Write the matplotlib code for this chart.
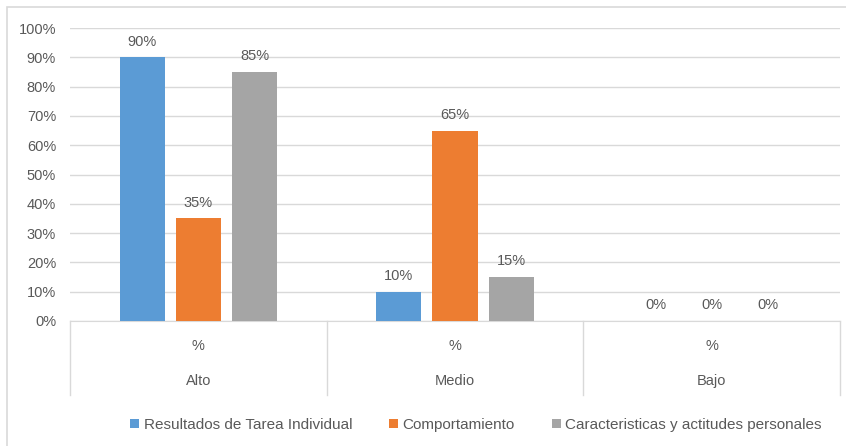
import numpy as np
import matplotlib.pyplot as plt
from matplotlib.patches import Rectangle
from matplotlib.ticker import PercentFormatter

# datos del gráfico
niveles = ["Alto", "Medio", "Bajo"]
sub_etiqueta = "%"
series = ["Resultados de Tarea Individual", "Comportamiento",
          "Caracteristicas y actitudes personales"]
resultados = [90, 10, 0]
comportamiento = [35, 65, 0]
caracteristicas = [85, 15, 0]
colores = ["#5b9bd5", "#ed7d31", "#a5a5a5"]

plt.rcParams['font.family'] = ['Liberation Sans', 'DejaVu Sans']
gris_texto = "#595959"

fig = plt.figure(figsize=(8.46, 4.46), dpi=100)
# marco exterior del gráfico
fig.patches.append(Rectangle((7 / 846, -0.05), 1.0, 1 - 6.5 / 446 + 0.05,
                             transform=fig.transFigure, fill=False,
                             edgecolor="#d9d9d9", linewidth=1.2))

ax = fig.add_axes([70 / 846, 1 - 321 / 446, 770 / 846, 293 / 446])

x = np.arange(len(niveles))
ancho = 0.176
paso = 0.219
valores = [resultados, comportamiento, caracteristicas]
for i, (nombre, vals) in enumerate(zip(series, valores)):
    pos = x + (i - 1) * paso
    barras = ax.bar(pos, vals, width=ancho, color=colores[i], label=nombre, zorder=3)
    for b, v in zip(barras, vals):
        ax.text(b.get_x() + b.get_width() / 2, v + 3, f"{v}%", ha="center",
                va="bottom", fontsize=10.5, color=gris_texto)

ax.set_xlim(-0.5, len(niveles) - 0.5)
ax.set_ylim(0, 100)
ax.set_yticks(range(0, 101, 10))
ax.yaxis.set_major_formatter(PercentFormatter(decimals=0))
ax.tick_params(axis="y", length=0, labelsize=10.5, labelcolor=gris_texto, pad=10)
ax.set_xticks([])
ax.grid(axis="y", color="#d9d9d9", linewidth=1, zorder=0)
for s in ["top", "right", "left"]:
    ax.spines[s].set_visible(False)
ax.spines["bottom"].set_color("#d9d9d9")

# eje de categorías de dos niveles
trans = ax.get_xaxis_transform()
for lim in np.arange(-0.5, len(niveles)):
    ax.plot([lim, lim], [0, -0.253], transform=trans, color="#d9d9d9",
            linewidth=1, clip_on=False)
for xi, nivel in zip(x, niveles):
    ax.text(xi, -0.085, sub_etiqueta, transform=trans, ha="center", va="center",
            fontsize=10.5, color=gris_texto)
    ax.text(xi, -0.205, nivel, transform=trans, ha="center", va="center",
            fontsize=10.5, color=gris_texto)

leg = fig.legend(loc="center", bbox_to_anchor=(0.5626, 1 - 425 / 446), ncol=3,
                 frameon=False, fontsize=11, handlelength=0.6, handleheight=0.6,
                 handletextpad=0.3, columnspacing=2.4)
for t in leg.get_texts():
    t.set_color(gris_texto)

fig.savefig("out.png", dpi=100, facecolor="white")
